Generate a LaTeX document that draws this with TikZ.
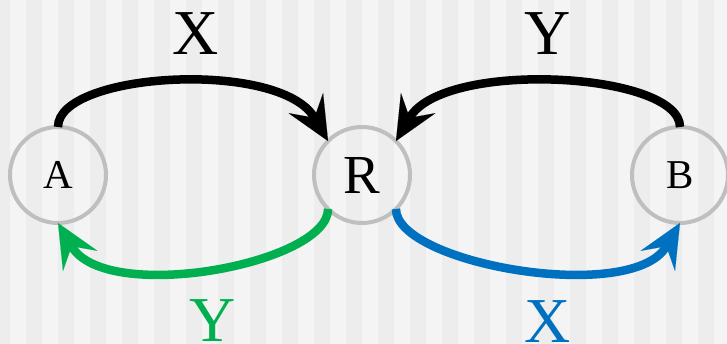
\documentclass[tikz,border=0pt]{standalone}
\usepackage{fontspec}
\setmainfont{Liberation Serif}
\usetikzlibrary{arrows.meta}
\definecolor{stripelight}{HTML}{F4F4F4}
\definecolor{stripedark}{HTML}{EDEDED}
\definecolor{ringgray}{HTML}{BFBFBF}
\definecolor{routegreen}{HTML}{00B050}
\definecolor{routeblue}{HTML}{0070C0}

\begin{document}
\begin{tikzpicture}[
    x=1pt, y=1pt,
    site/.style={circle, draw=ringgray, line width=4pt, minimum size=96pt, inner sep=0pt, outer sep=0pt, font=\fontsize{41}{41}\selectfont},
    route/.style={line width=8.5pt, -{Stealth[length=44pt, width=40pt, inset=17pt, line width=0.1pt]}},
    tag/.style={inner sep=0pt, font=\fontsize{64}{64}\selectfont}
]
    % Background stripes
    \useasboundingbox (0,0) rectangle (727,344);
    \begin{scope}
        \clip (0,0) rectangle (727,344);
        \fill[stripelight] (0,0) rectangle (727,344);
        \foreach \sx in {-6,26,...,730}
            \fill[stripedark] (\sx,0) rectangle (\sx+16,344);
    \end{scope}

    % Sites
    \node[site] (a) at (58,169) {A};
    \node[site, font=\fontsize{55}{55}\selectfont] (r) at (362,169) {R};
    \node[site] (b) at (680,169) {B};

    % Routes
    \draw[route] (a.90) .. controls +(0,55) and +(-48,82) .. (r.135);
    \draw[route] (b.90) .. controls +(0,55) and +(48,82) .. (r.45);
    \draw[route, routegreen] (r.225) .. controls +(0,-55) and +(48,-82) .. (a.270);
    \draw[route, routeblue] (r.315) .. controls +(0,-55) and +(-48,-82) .. (b.270);

    % Labels
    \node[tag] (xtop) at (196,310) {X};
    \node[tag] (ytop) at (548,310) {Y};
    \node[tag, text=routegreen] (ybot) at (213,23) {Y};
    \node[tag, text=routeblue] (xbot) at (548,22) {X};
\end{tikzpicture}
\end{document}
